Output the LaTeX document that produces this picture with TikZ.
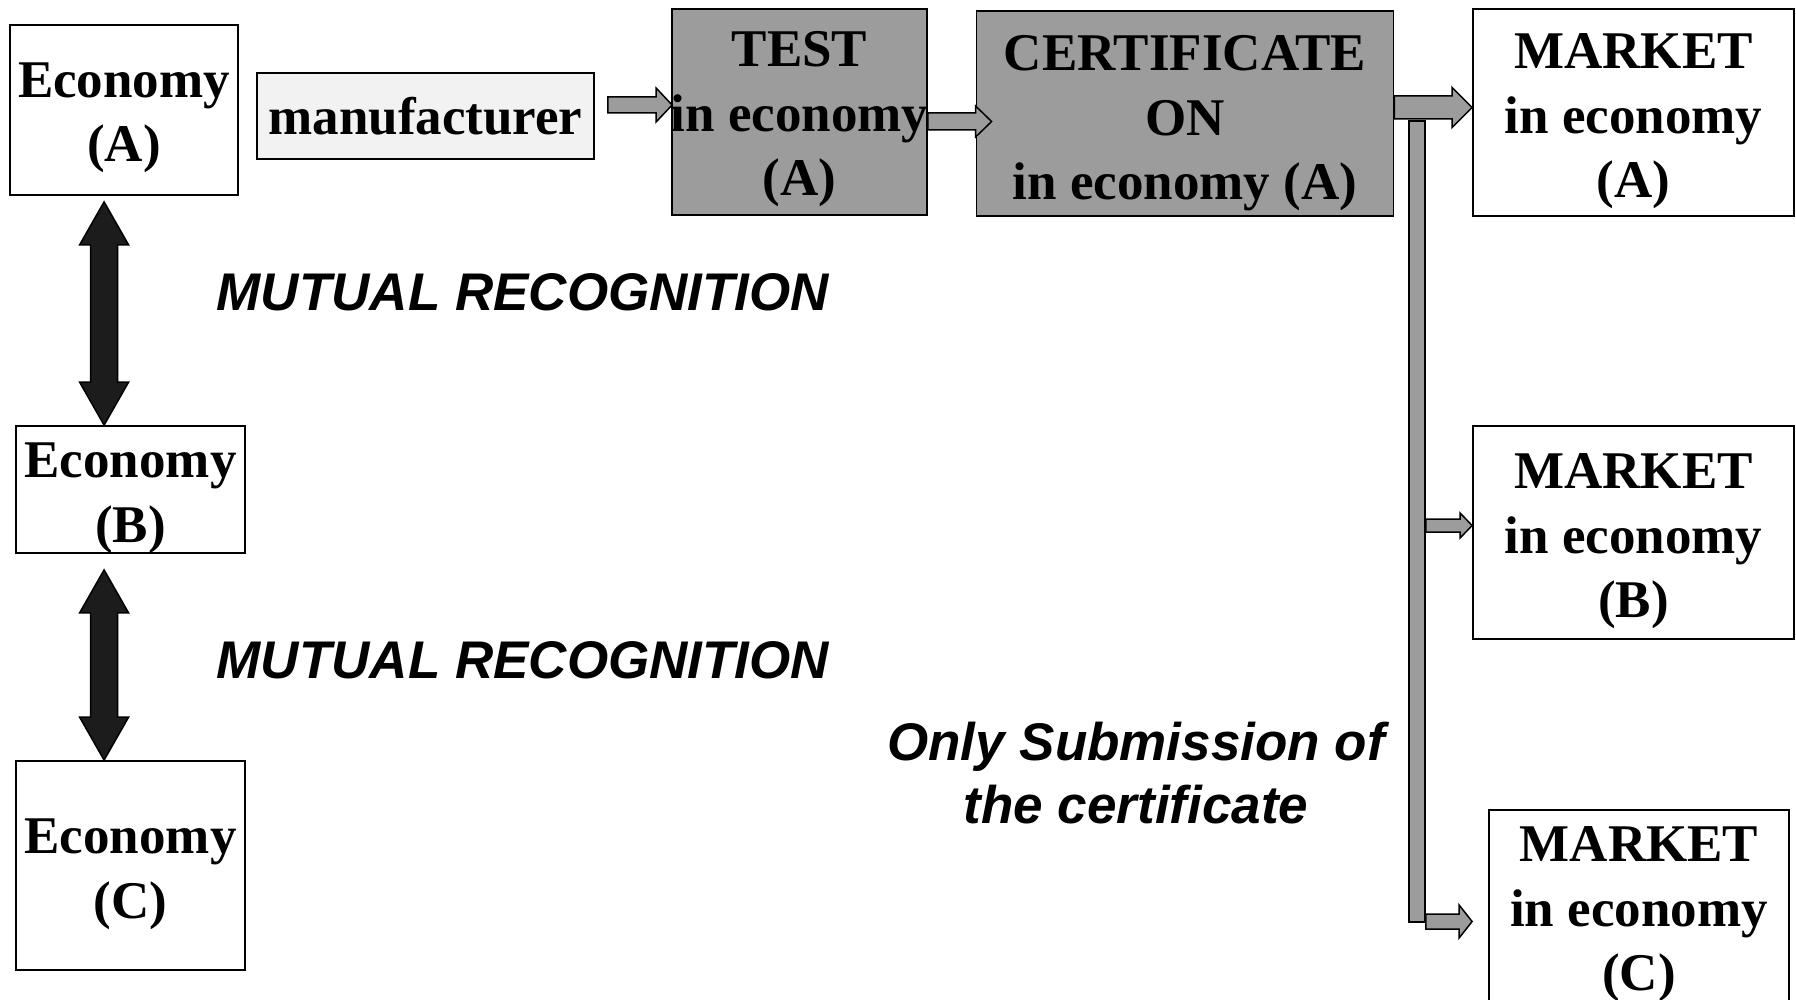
\documentclass[tikz,border=0pt]{standalone}
\usepackage{fontspec}
\setmainfont{Liberation Serif}
\setsansfont{Liberation Sans}
\usetikzlibrary{calc}

\definecolor{boxgray}{HTML}{9C9C9C}
\definecolor{arrgray}{HTML}{9C9C9C}
\definecolor{mfrfill}{HTML}{F2F2F2}
\definecolor{darkarr}{HTML}{1C1C1C}

\tikzset{
  box/.style={draw=black, line width=1.8pt, inner sep=0pt, align=center,
    font=\fontsize{53}{64.5}\selectfont\bfseries},
  graybox/.style={box, fill=boxgray},
  boxtext/.style={inner sep=0pt, align=center,
    font=\fontsize{53}{64.5}\selectfont\bfseries},
  mrtext/.style={inner sep=0pt, align=center,
    font=\fontsize{53}{63}\selectfont\sffamily\bfseries\itshape},
  blockarr/.style={fill=arrgray, draw=black, line width=1.5pt, line join=miter},
  dblarr/.style={fill=darkarr, draw=black, line width=1.5pt, line join=miter},
}

% box with a multi-line caption set slightly below its centre:
% options, name, centre, width, height, caption, downward offset
\newcommand\capbox[7]{%
  \node[#1, minimum width=#4, minimum height=#5,
        label={[boxtext, yshift=-#7]center:{#6}}] (#2) at #3 {};}

% horizontal block arrow: start, tip, shaft half-height, head half-height, head length
\newcommand\blockarrow[5]{%
  \draw[blockarr] let \p1=(#1), \p2=(#2) in
    (\x1,\y2+#3) -- (\x2-#5,\y2+#3) -- (\x2-#5,\y2+#4) -- (\x2,\y2)
    -- (\x2-#5,\y2-#4) -- (\x2-#5,\y2-#3) -- (\x1,\y2-#3) -- cycle;}

% vertical double-headed block arrow: top tip, bottom tip
\newcommand\dblarrow[2]{%
  \draw[dblarr] let \p1=(#1), \p2=(#2) in
    (\x1,\y1) -- (\x1+24.5pt,\y1-43pt) -- (\x1+13.5pt,\y1-43pt)
    -- (\x1+13.5pt,\y2+43pt) -- (\x1+24.5pt,\y2+43pt) -- (\x1,\y2)
    -- (\x1-24.5pt,\y2+43pt) -- (\x1-13.5pt,\y2+43pt)
    -- (\x1-13.5pt,\y1-43pt) -- (\x1-24.5pt,\y1-43pt) -- cycle;}

\begin{document}
\begin{tikzpicture}[x=1pt, y=-1pt]
\useasboundingbox (0,0) rectangle (1796,1000);

% economies
\capbox{box}{ecoA}{(124,110)}{228pt}{170pt}{Economy\\(A)}{8pt}
\capbox{box}{ecoB}{(130.5,489.5)}{229pt}{127pt}{Economy\\(B)}{9pt}
\capbox{box}{ecoC}{(130.5,865.5)}{229pt}{209pt}{Economy\\(C)}{9pt}

% process chain
\node[box, fill=mfrfill, minimum width=337pt, minimum height=86pt] (mfr) at (425.5,116) {manufacturer};
\capbox{graybox}{test}{(799.5,112)}{255pt}{206pt}{TEST\\in economy\\(A)}{7.5pt}
\capbox{graybox}{cert}{(1185,113.5)}{417pt}{205pt}{CERTIFICATE\\ON\\in economy (A)}{10pt}

% markets
\capbox{box}{mktA}{(1633.5,112.5)}{321pt}{207pt}{MARKET\\in economy\\(A)}{9pt}
\capbox{box}{mktB}{(1633.5,532.5)}{321pt}{213pt}{MARKET\\in economy\\(B)}{9pt}
\capbox{box}{mktC}{(1639,910)}{300pt}{200pt}{MARKET\\in economy\\(C)}{4.5pt}

% labels
\node[mrtext] (mr1) at (523,292) {MUTUAL RECOGNITION};
\node[mrtext] (mr2) at (523,660) {MUTUAL RECOGNITION};
\node[mrtext] (only) at (1136,773.5) {Only Submission of\\the certificate};

% mutual recognition arrows
\dblarrow{$(ecoA.south west)+(95,6)$}{$(ecoB.north west)+(89,0)$}
\dblarrow{$(ecoB.south west)+(89,16)$}{$(ecoC.north west)+(89,0)$}

% distribution bar
\node[draw=black, fill=arrgray, line width=1.5pt, inner sep=0pt,
      minimum width=16pt, minimum height=801pt] (bar) at (1417,521.5) {};

% flow arrows
\blockarrow{$(mfr.east)+(13,-11)$}{$(test.west)+(1,-7)$}{8pt}{17pt}{16pt}
\blockarrow{$(test.east)+(0,8)$}{$(cert.west)+(16,8)$}{8.5pt}{15.5pt}{16pt}
\blockarrow{$(cert.east)+(0,-6)$}{$(mktA.west)+(0,-5)$}{11.5pt}{20pt}{20pt}
\blockarrow{$(bar.east)+(0,4)$}{$(mktB.west)+(0,-7)$}{6.5pt}{12.5pt}{12pt}
\blockarrow{$(bar.south east)+(0,-0.5)$}{$(mktC.west)+(-16,11.5)$}{7.5pt}{16.5pt}{13pt}
\end{tikzpicture}
\end{document}
